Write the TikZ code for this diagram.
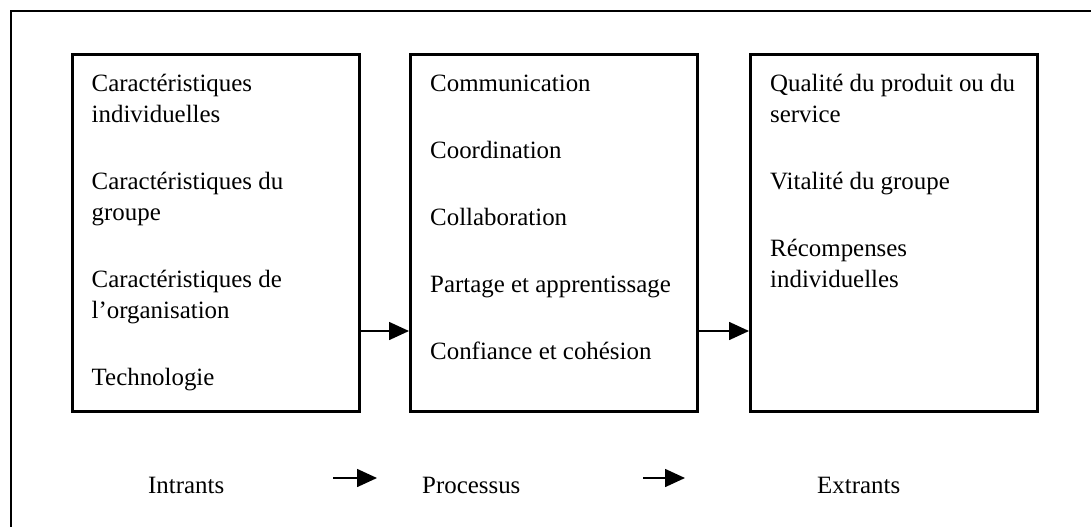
\documentclass[tikz,border=0pt]{standalone}
\usepackage{fontspec}
\setmainfont{Liberation Serif}
\usetikzlibrary{calc}
\usetikzlibrary{arrows.meta}

\begin{document}
\begin{tikzpicture}[x=1pt,y=-1pt,
  box/.style={draw=black,line width=3pt,minimum width=287pt,minimum height=357.5pt,inner sep=0pt},
  items/.style={anchor=north west,align=left,inner sep=0pt,font=\fontsize{24.9}{31}\selectfont},
  lbl/.style={anchor=base west,inner sep=0pt,font=\fontsize{24.9}{31}\selectfont},
  flow/.style={black,line width=1.6pt,-{Triangle[length=20pt,width=18pt]}}]

\useasboundingbox (0,0) rectangle (1091,527);

% frame, cut by the page
\draw[black,line width=2pt] (1091,11.5) -- (10.5,11.5) -- (10.5,527);

\node[box] (inp) at (215.5,233) {};
\node[box] (proc) at (554,233) {};
\node[box] (outp) at (894,233) {};

\node[items] (inptxt) at ($(inp.north west)+(21,17)$) {\strut Caractéristiques\\individuelles\\[36pt]Caractéristiques du\\groupe\\[36pt]Caractéristiques de\\l’organisation\\[36pt]Technologie};
\node[items] (proctxt) at ($(proc.north west)+(21,17)$) {\strut Communication\\[36pt]Coordination\\[36pt]Collaboration\\[36pt]Partage et apprentissage\\[36pt]Confiance et cohésion};
\node[items] (outptxt) at ($(outp.north west)+(21,17)$) {\strut Qualité du produit ou du\\service\\[36pt]Vitalité du groupe\\[36pt]Récompenses\\individuelles};

\coordinate (mid) at (0,331);
\draw[flow] (inp.east |- mid) -- (proc.west |- mid);
\draw[flow] (proc.east |- mid) -- (outp.west |- mid);

\node[lbl] (intr) at (148,493) {Intrants};
\node[lbl] (pro) at (422,493) {Processus};
\node[lbl] (extr) at (817,493) {Extrants};

\coordinate (a1) at (333,478);
\coordinate (b1) at (377,478);
\coordinate (a2) at (643,478);
\coordinate (b2) at (685,478);
\draw[flow] (a1) -- (b1);
\draw[flow] (a2) -- (b2);

\end{tikzpicture}
\end{document}
